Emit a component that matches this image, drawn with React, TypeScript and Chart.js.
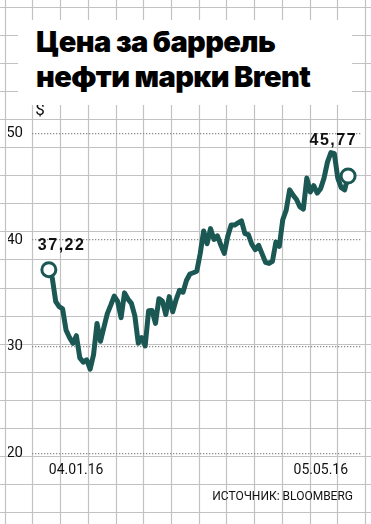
import { useEffect, useRef } from "react";
import { Chart, registerables } from "chart.js";

Chart.register(...registerables);

// Trading days, 04.01.16 – 05.05.16
const dates = [
  "04.01.16", "05.01.16", "06.01.16", "07.01.16", "08.01.16", "11.01.16", "12.01.16", "13.01.16", "14.01.16", "15.01.16",
  "18.01.16", "19.01.16", "20.01.16", "21.01.16", "22.01.16", "25.01.16", "26.01.16", "27.01.16", "28.01.16", "29.01.16",
  "01.02.16", "02.02.16", "03.02.16", "04.02.16", "05.02.16", "08.02.16", "09.02.16", "10.02.16", "11.02.16", "12.02.16",
  "15.02.16", "16.02.16", "17.02.16", "18.02.16", "19.02.16", "22.02.16", "23.02.16", "24.02.16", "25.02.16", "26.02.16",
  "29.02.16", "01.03.16", "02.03.16", "03.03.16", "04.03.16", "07.03.16", "08.03.16", "09.03.16", "10.03.16", "11.03.16",
  "14.03.16", "15.03.16", "16.03.16", "17.03.16", "18.03.16", "21.03.16", "22.03.16", "23.03.16", "24.03.16", "28.03.16",
  "29.03.16", "30.03.16", "31.03.16", "01.04.16", "04.04.16", "05.04.16", "06.04.16", "07.04.16", "08.04.16", "11.04.16",
  "12.04.16", "13.04.16", "14.04.16", "15.04.16", "18.04.16", "19.04.16", "20.04.16", "21.04.16", "22.04.16", "25.04.16",
  "26.04.16", "27.04.16", "28.04.16", "29.04.16", "02.05.16", "03.05.16", "04.05.16", "05.05.16",
];

// Brent, $ per barrel
const prices = [
  37.22, 36.42, 34.23, 33.75, 33.55, 31.55, 30.86, 30.31, 31.03, 28.94,
  28.55, 28.76, 27.88, 29.25, 32.18, 30.5, 31.8, 33.1, 33.89, 34.74,
  34.24, 32.72, 35.04, 34.46, 34.06, 32.88, 30.32, 30.84, 30.06, 33.36,
  33.39, 32.18, 34.5, 34.28, 33.01, 34.69, 33.27, 34.41, 35.29, 35.1,
  36.2, 36.81, 36.93, 37.07, 38.72, 40.84, 39.65, 41.07, 40.05, 40.39,
  39.53, 38.74, 40.33, 41.4, 41.4, 41.6, 41.8, 40.6, 40.5, 39.6,
  39.1, 39.5, 38.7, 37.9, 37.8, 38.0, 39.8, 39.4, 41.9, 42.8,
  44.7, 44.2, 43.8, 43.1, 42.9, 45.8, 44.5, 45.1, 44.4, 44.8,
  45.8, 47.3, 48.2, 48.1, 45.8, 44.9, 44.7, 46.0,
];

const yTickValues = [20, 30, 40, 50];
const xTickIndexes = [0, dates.length - 1];
const firstLabel = "37,22";
const lastLabel = "45,77";
const unitLabel = "$";
const sourceLabel = "ИСТОЧНИК: BLOOMBERG";
const titleLines = ["Цена за баррель", "нефти марки Brent"];

export default function App() {
  const ref = useRef<HTMLCanvasElement>(null);

  useEffect(() => {
    if (!ref.current) return;
    const teal = "#1b5854";
    const last = prices.length - 1;

    const bgGrid = {
      id: "bgGrid",
      beforeDraw(chart: any) {
        const { ctx, width, height } = chart;
        ctx.save();
        ctx.fillStyle = "#ffffff";
        ctx.fillRect(0, 0, width, height);
        ctx.strokeStyle = "#c2c2c2";
        ctx.lineWidth = 1.2;
        ctx.beginPath();
        for (let x = 4.7; x < width; x += 27.72) {
          const px = Math.round(x) + 0.5;
          ctx.moveTo(px, 0);
          ctx.lineTo(px, height);
        }
        for (let y = 7.3; y < height; y += 28.02) {
          const py = Math.round(y) + 0.5;
          ctx.moveTo(0, py);
          ctx.lineTo(width, py);
        }
        ctx.stroke();
        ctx.restore();
      },
    };

    const annotations = {
      id: "annotations",
      afterDatasetsDraw(chart: any) {
        const { ctx, chartArea, height } = chart;
        const pts = chart.getDatasetMeta(0).data;
        const p0 = pts[0];
        const pN = pts[pts.length - 1];
        ctx.save();
        ctx.fillStyle = "#111111";
        ctx.textBaseline = "middle";
        ctx.font = 'bold 16px "Liberation Sans"';
        (ctx as any).letterSpacing = "1.5px";
        ctx.textAlign = "left";
        ctx.fillText(firstLabel, p0.x - 11, p0.y - 24);
        ctx.textAlign = "right";
        ctx.fillText(lastLabel, pN.x + 9, pN.y - 35);
        (ctx as any).letterSpacing = "0px";
        ctx.font = "17px Roboto";
        ctx.textAlign = "center";
        ctx.fillText(unitLabel, chartArea.left + 8, chartArea.top - 1);
        ctx.font = "12px Roboto";
        ctx.textAlign = "right";
        ctx.fillText(sourceLabel, chartArea.right - 8, height - 27);
        ctx.restore();
      },
    };

    const chart = new Chart(ref.current, {
      type: "line",
      data: {
        datasets: [
          {
            data: prices.map((v, i) => ({ x: i, y: v })),
            borderColor: teal,
            borderWidth: 5,
            borderJoinStyle: "round",
            borderCapStyle: "round",
            tension: 0,
            pointRadius: (c: any) => (c.dataIndex === 0 || c.dataIndex === last ? 7 : 0),
            pointHoverRadius: 0,
            pointBackgroundColor: "#ffffff",
            pointBorderColor: teal,
            pointBorderWidth: 3,
          },
        ],
      },
      options: {
        responsive: false,
        animation: false,
        events: [],
        layout: { padding: { left: 8, right: 8, top: 112, bottom: 0 } },
        plugins: { legend: { display: false }, tooltip: { enabled: false }, title: { display: false } },
        scales: {
          x: {
            type: "linear",
            min: -4.9,
            max: 90.75,
            afterFit: (s: any) => {
              s.height = 70.7;
            },
            afterBuildTicks: (s: any) => {
              s.ticks = xTickIndexes.map((v) => ({ value: v }));
            },
            grid: { display: false, drawTicks: false },
            border: { display: false },
            ticks: {
              align: "inner",
              padding: 9,
              maxRotation: 0,
              autoSkip: false,
              color: "#111111",
              font: { family: "Roboto", size: 14 },
              callback: (v: any) => dates[v as number] ?? "",
            },
          },
          y: {
            min: 20,
            max: 52,
            afterFit: (s: any) => {
              s.width = 24;
            },
            afterBuildTicks: (s: any) => {
              s.ticks = yTickValues.map((v) => ({ value: v }));
            },
            grid: { color: "#8c8c8c", lineWidth: 1.3, drawTicks: false },
            border: { display: false, dash: [1.3, 1.7] },
            ticks: {
              padding: 9,
              color: "#111111",
              font: { family: "Roboto", size: 15 },
              callback: (v: any) => String(v),
            },
          },
        },
      },
      plugins: [bgGrid, annotations],
    });

    return () => chart.destroy();
  }, []);

  return (
    <div style={{ position: "fixed", left: 0, top: 0, width: 371, height: 524, background: "#fff" }}>
      <canvas ref={ref} width={371} height={524} style={{ position: "absolute", left: 0, top: 0 }} />
      <div
        style={{
          position: "absolute",
          left: 18,
          top: 20,
          width: 334,
          height: 85,
          background: "#fff",
          boxSizing: "border-box",
          paddingLeft: 18,
          paddingTop: 4,
          fontFamily: "Inter",
          fontWeight: 900,
          fontSize: 29,
          lineHeight: "35px",
          letterSpacing: "-0.6px",
          color: "#000",
          whiteSpace: "nowrap",
        }}
      >
        {titleLines.map((t) => (
          <div key={t}>{t}</div>
        ))}
      </div>
    </div>
  );
}
